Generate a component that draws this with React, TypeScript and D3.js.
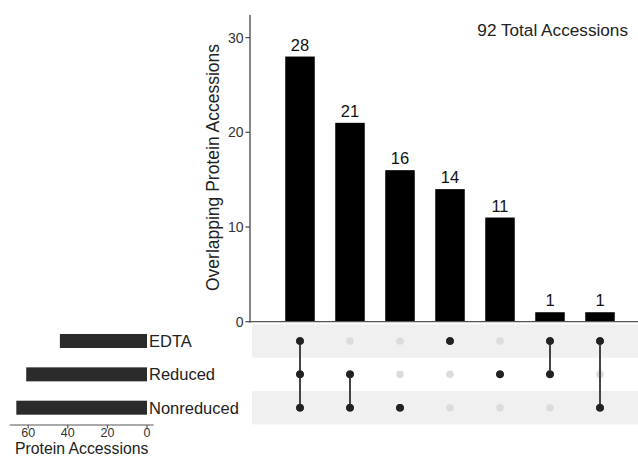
import React from "react";
import * as d3 from "d3";

const sets = ["EDTA", "Reduced", "Nonreduced"];
const setSizes = [44, 61, 66];
const intersectionSizes = [28, 21, 16, 14, 11, 1, 1];
const intersectionMembers = [
  ["EDTA", "Reduced", "Nonreduced"],
  ["Reduced", "Nonreduced"],
  ["Nonreduced"],
  ["EDTA"],
  ["Reduced"],
  ["EDTA", "Reduced"],
  ["EDTA", "Nonreduced"],
];
const mainTicks = [0, 10, 20, 30];
const setTicks = [0, 20, 40, 60];
const totalLabel = "92 Total Accessions";

const FONT = "'Liberation Sans', Arial, Helvetica, sans-serif";

export default function App() {
  const W = 638, H = 456;
  const ids = intersectionSizes.map((_, i) => String(i));
  const x = d3.scalePoint<string>().domain(ids).range([250, 650]).padding(1);
  const barW = 29.5;
  const y = d3.scaleLinear().domain([0, 30]).range([321.7, 37.6]);
  const rowY = d3.scalePoint<string>().domain(sets).range([341, 407.7]);
  const rowStep = 33.35;
  const sx = d3.scaleLinear().domain([0, 66]).range([147, 147 - 66 * 1.98]);
  const setBarH = 14;

  return (
    <svg width={W} height={H} style={{ display: "block", position: "absolute", left: 0, top: 0 }} fontFamily={FONT}>
      <rect width={W} height={H} fill="#fff" />
      {/* matrix row shading */}
      {sets.map((s, i) =>
        i % 2 === 0 ? (
          <rect key={s} x={252} y={(rowY(s) as number) - rowStep / 2} width={W - 252} height={rowStep} fill="#f0f0f0" />
        ) : null
      )}
      {/* main bars */}
      {intersectionSizes.map((v, i) => (
        <g key={i}>
          <rect x={(x(ids[i]) as number) - barW / 2} y={y(v)} width={barW} height={y(0) - y(v)} fill="#000" />
          <text x={x(ids[i]) as number} y={y(v) - 6} textAnchor="middle" fontSize={16.5} fill="#111">{v}</text>
        </g>
      ))}
      {/* y axis */}
      <line x1={250} x2={250} y1={15} y2={322.4} stroke="#444" strokeWidth={1.3} />
      <line x1={249.4} x2={650} y1={321.7} y2={321.7} stroke="#555" strokeWidth={1.3} />
      {mainTicks.map((t) => (
        <g key={t}>
          <line x1={245.5} x2={250} y1={y(t)} y2={y(t)} stroke="#444" strokeWidth={1.2} />
          <text x={243.5} y={y(t)} dy="0.35em" textAnchor="end" fontSize={14} fill="#333">{t}</text>
        </g>
      ))}
      <text transform={`translate(219,${(45 + 290) / 2}) rotate(-90)`} textAnchor="middle" fontSize={17.5} fill="#222">
        Overlapping Protein Accessions
      </text>
      <text x={628} y={36} textAnchor="end" fontSize={17.2} fill="#222">{totalLabel}</text>
      {/* matrix */}
      {intersectionMembers.map((mem, i) => {
        const cx = x(ids[i]) as number;
        const ys = mem.map((m) => rowY(m) as number);
        const y1 = d3.min(ys) as number, y2 = d3.max(ys) as number;
        return (
          <g key={i}>
            {sets.map((s) => (
              <circle key={s} cx={cx} cy={rowY(s) as number} r={3.8} fill={mem.includes(s) ? "#222" : "#dcdcdc"} />
            ))}
            {mem.length > 1 ? <line x1={cx} x2={cx} y1={y1} y2={y2} stroke="#444" strokeWidth={2} /> : null}
            {mem.map((m) => (
              <circle key={"b" + m} cx={cx} cy={rowY(m) as number} r={3.8} fill="#222" />
            ))}
          </g>
        );
      })}
      {/* set size bars */}
      {sets.map((s, i) => (
        <g key={s}>
          <rect x={sx(setSizes[i])} y={(rowY(s) as number) - setBarH / 2} width={sx(0) - sx(setSizes[i])} height={setBarH} fill="#2b2b2b" />
          <text x={149} y={rowY(s) as number} dy="0.36em" fontSize={16.5} fill="#222">{s}</text>
        </g>
      ))}
      <line x1={sx(69.3)} x2={sx(-3.3)} y1={425} y2={425} stroke="#555" strokeWidth={1.2} />
      {setTicks.map((t) => (
        <g key={t}>
          <line x1={sx(t)} x2={sx(t)} y1={425} y2={428.5} stroke="#555" strokeWidth={1.2} />
          <text x={sx(t)} y={432.5} dy="0.35em" textAnchor="middle" fontSize={12.5} fill="#333">{t}</text>
        </g>
      ))}
      <text x={(sx(69.3) + sx(-3.3)) / 2} y={448.5} dy="0.35em" textAnchor="middle" fontSize={15.8} fill="#222">Protein Accessions</text>
    </svg>
  );
}
